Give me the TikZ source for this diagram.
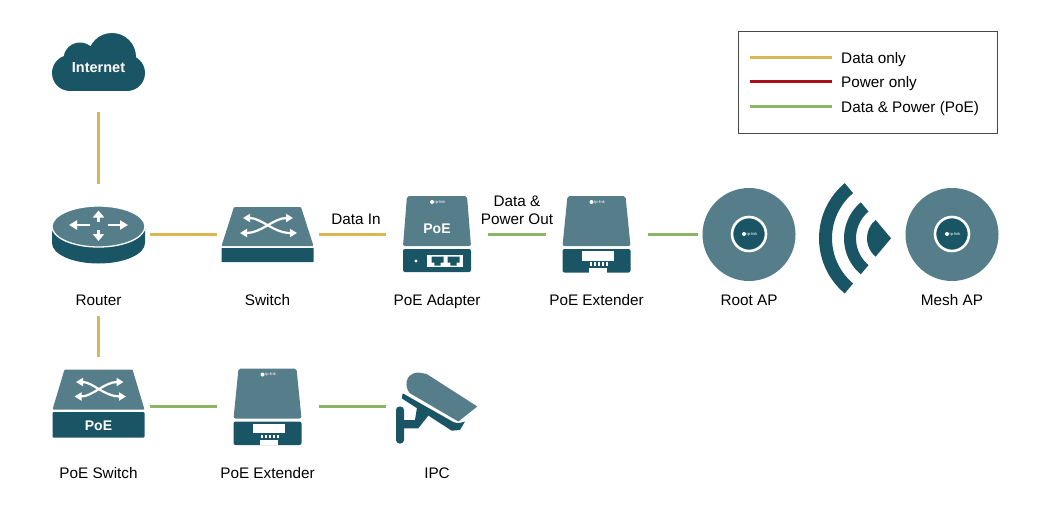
\documentclass[tikz,border=0pt]{standalone}
\usepackage{fontspec}
\setmainfont{Liberation Sans}
\usetikzlibrary{arrows.meta}
\definecolor{tealdark}{HTML}{1A5565}
\definecolor{teallight}{HTML}{567D8A}
\definecolor{wiredata}{HTML}{D9B853}
\definecolor{wirepower}{HTML}{A80F16}
\definecolor{wirepoe}{HTML}{8BB565}
\tikzset{
	device/.style={minimum width=102pt, minimum height=100pt, inner sep=0pt, outer sep=0pt},
	devlabel/.style={font=\fontsize{15.3}{18}\selectfont, minimum height=32pt, inner sep=0pt, outer sep=0pt, text height=11pt, text depth=0pt},
	legendtext/.style={font=\fontsize{15.3}{18}\selectfont, anchor=west, inner sep=0pt, text height=11pt, text depth=0pt},
	datawire/.style={wiredata, line width=3pt},
	powerwire/.style={wirepower, line width=3pt},
	poewire/.style={wirepoe, line width=3pt},
	iconbold/.style={white, font=\fontsize{#1}{#1}\selectfont\bfseries, inner sep=0pt},
	crossarrow/.style={white, line width=2.2pt, {Triangle[width=8pt,length=7pt]}-{Triangle[width=8pt,length=7pt]}},
	logo/.pic={
		\fill[white] (-5,0) circle (2pt);
		\node[white, font=\fontsize{4}{4}\selectfont, inner sep=0pt] (mark) at (3,0) {tp-link};
	},
	cloudicon/.pic={
		\fill[tealdark] (-28.5,11) circle (18pt) (28.5,11) circle (18pt) (13.5,-5) circle (24pt) (-18.5,-3) circle (16.5pt);
		\fill[tealdark] (-28.5,-3) rectangle (28.5,29);
		\node[iconbold=14.5] (word) at (0,6) {Internet};
	},
	routericon/.pic={
		\fill[tealdark] (-46.5,-7.5) -- (-46.5,9) arc[start angle=180,end angle=360,x radius=46.5,y radius=-20.5] -- (46.5,-7.5) -- cycle;
		\draw[white, line width=1.3pt, fill=teallight] (0,-7.5) ellipse (46.5pt and 20.5pt);
		\draw[white, line width=3.6pt, -{Triangle[width=11pt,length=7pt]}] (0,-12) -- (0,-23.5);
		\draw[white, line width=3.6pt, -{Triangle[width=11pt,length=7pt]}] (0,-4) -- (0,7);
		\draw[white, line width=2.2pt, -{Triangle[width=9pt,length=8pt]}] (-9,-9) -- (-29.5,-9);
		\draw[white, line width=2.2pt, -{Triangle[width=9pt,length=8pt]}] (9,-9) -- (29.5,-9);
	},
	switchicon/.pic={
		\fill[teallight, rounded corners=1pt] (-33.5,-27) -- (33.5,-27) -- (46,12) -- (-46,12) -- cycle;
		\fill[tealdark, rounded corners=0.5pt] (-46,14) rectangle (46,28);
		\draw[crossarrow] (-24.5,-16) .. controls (-6,-16) and (6,-1) .. (29.5,-1);
		\draw[crossarrow] (-27.5,-1) .. controls (-6,-1) and (6,-16) .. (25.5,-16);
	},
	poeswitchicon/.pic={
		\fill[teallight, rounded corners=1pt] (-34,-37) -- (34,-37) -- (46,3) -- (-46,3) -- cycle;
		\fill[tealdark, rounded corners=1pt] (-46,5.5) rectangle (46,31);
		\node[iconbold=14] (word) at (0,19) {PoE};
		\draw[crossarrow] (-22.5,-24.5) .. controls (-6,-24.5) and (6,-10) .. (27.5,-10);
		\draw[crossarrow] (-24,-10) .. controls (-6,-10) and (6,-24.5) .. (25,-24.5);
	},
	jackicon/.pic={
		\fill[tealdark] (-6,-4.5) -- (6,-4.5) -- (6,1.5) -- (3.2,1.5) -- (3.2,4.5) -- (-3.2,4.5) -- (-3.2,1.5) -- (-6,1.5) -- cycle;
	},
	adaptericon/.pic={
		\fill[teallight, rounded corners=2pt] (-30,-38) -- (30,-38) -- (34,12) -- (-34,12) -- cycle;
		\fill[tealdark, rounded corners=2pt] (-34,15) rectangle (34,38);
		\pic (top) at (0,-32) {logo};
		\node[iconbold=14] (word) at (0,-5) {PoE};
		\fill[white] (-21,27) circle (1.6pt);
		\fill[white] (-10,21) rectangle (26,33);
		\pic at (0.5,27) {jackicon};
		\pic at (16.5,27) {jackicon};
	},
	extendericon/.pic={
		\fill[teallight, rounded corners=2pt] (-29,-38) -- (29,-38) -- (34,12) -- (-34,12) -- cycle;
		\fill[tealdark, rounded corners=2pt] (-34,15) rectangle (34,38.5);
		\fill[white] (-15,17) rectangle (17.5,26.5);
		\fill[white] (-7.5,33.5) rectangle (10,38.5);
		\foreach \pin in {-7,-3,1,5,9}
			\fill[white] (\pin,28) rectangle (\pin+2,31.5);
		\pic (top) at (0,-32) {logo};
	},
	apicon/.pic={
		\fill[teallight] (0,0.5) circle (46.5pt);
		\draw[white, line width=2.6pt, fill=tealdark] (0,0) circle (17pt);
		\pic (mid) at (0,0) {logo};
	},
	cameraicon/.pic={
		\fill[teallight] (40.3,0) -- (21.3,15) -- (-27,-13.2) .. controls (-32,-18) and (-33.7,-33) .. (-18.7,-34) -- (-10.3,-32.5) -- cycle;
		\fill[tealdark] (-34.3,-13.2) -- (16.3,15.5) .. controls (20,17) and (24,16.5) .. (28,15) -- (23,23.5) -- (14.7,24.2) -- (-35.3,-8.2) -- cycle;
		\fill[tealdark, rounded corners=3.5pt] (-41,0) rectangle (-33,37);
		\fill[tealdark] (-33,13.5) -- (-22,13.5) -- (-20,1) -- (-7,7) -- (-18.7,21.8) -- (-33,21.8) -- cycle;
	},
}
\begin{document}
\begin{tikzpicture}[x=1pt, y=-1pt]
	\useasboundingbox (0,0) rectangle (1051,522);
	% top row
	\node[device] (internet) at (98.5,62) {};
	\node[device] (router) at (98.5,234) {};
	\node[device] (switch) at (267.5,234) {};
	\node[device] (adapter) at (437,234) {};
	\node[device] (extender) at (596.5,234) {};
	\node[device] (rootap) at (749,234) {};
	\node[device] (meshap) at (952,234) {};
	% bottom row
	\node[device] (poeswitch) at (98.5,406.5) {};
	\node[device] (extenderb) at (267.5,406.5) {};
	\node[device] (ipc) at (437,406.5) {};
	% icons
	\pic at (internet) {cloudicon};
	\pic at (router) {routericon};
	\pic at (switch) {switchicon};
	\pic at (adapter) {adaptericon};
	\pic at (extender) {extendericon};
	\pic at (rootap) {apicon};
	\pic at (meshap) {apicon};
	\pic at (poeswitch) {poeswitchicon};
	\pic at (extenderb) {extendericon};
	\pic at (ipc) {cameraicon};
	% wireless fan
	\fill[tealdark] (891,238.3) -- ++(130:24) arc[start angle=130,end angle=230,radius=24] -- cycle;
	\fill[tealdark] (891,238.3) ++(130:47) arc[start angle=130,end angle=230,radius=47] -- ++(50:12) arc[start angle=230,end angle=130,radius=35] -- cycle;
	\fill[tealdark] (891,238.3) ++(130:72) arc[start angle=130,end angle=230,radius=72] -- ++(50:13) arc[start angle=230,end angle=130,radius=59] -- cycle;
	% device names
	\node[devlabel] (routername) at (98.5,300) {Router};
	\node[devlabel] (switchname) at (267.5,300) {Switch};
	\node[devlabel] (adaptername) at (437,300) {PoE Adapter};
	\node[devlabel] (extendername) at (596.5,300) {PoE Extender};
	\node[devlabel] (rootname) at (749,300) {Root AP};
	\node[devlabel] (meshname) at (952,300) {Mesh AP};
	\node[devlabel] (poeswitchname) at (98.5,473) {PoE Switch};
	\node[devlabel] (extenderbname) at (267.5,473) {PoE Extender};
	\node[devlabel] (ipcname) at (437,473) {IPC};
	\node[devlabel, minimum height=0pt] (datain) at (356,219) {Data In};
	\node[font=\fontsize{15.3}{18}\selectfont, inner sep=0pt, align=center] (dataout) at (517,210) {Data \&\\Power Out};
	% connections
	\draw[datawire] (internet) -- (router);
	\draw[datawire] (router) -- (switch);
	\draw[datawire] (switch) -- (adapter);
	\draw[poewire] (adapter) -- (extender);
	\draw[poewire] (extender) -- (rootap);
	\draw[datawire] (routername) -- (poeswitch);
	\draw[poewire] (poeswitch) -- (extenderb);
	\draw[poewire] (extenderb) -- (ipc);
	% legend
	\node[draw=black!72, line width=1pt, minimum width=259pt, minimum height=102pt, inner sep=0pt] (legendbox) at (867.5,82) {};
	\coordinate (dataa) at (750,57.5);
	\coordinate (datab) at (832,57.5);
	\coordinate (powera) at (750,81.5);
	\coordinate (powerb) at (832,81.5);
	\coordinate (poea) at (750,106.5);
	\coordinate (poeb) at (832,106.5);
	\draw[datawire] (dataa) -- (datab);
	\draw[powerwire] (powera) -- (powerb);
	\draw[poewire] (poea) -- (poeb);
	\node[legendtext] (datatext) at (841,58) {Data only};
	\node[legendtext] (powertext) at (841,82) {Power only};
	\node[legendtext] (poetext) at (841,107) {Data \& Power (PoE)};
\end{tikzpicture}
\end{document}
